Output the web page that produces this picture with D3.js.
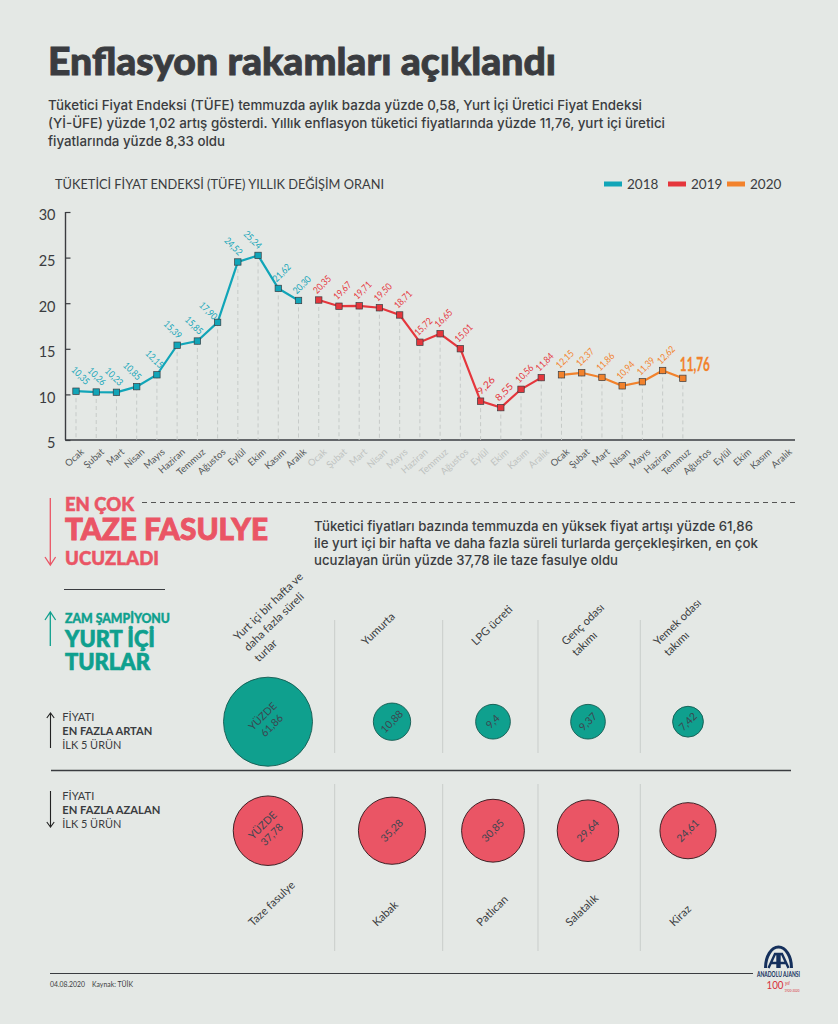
<!DOCTYPE html>
<html>
<head>
<meta charset="utf-8">
<script src="https://cdn.jsdelivr.net/npm/d3@7"></script>
<style>
html, body { margin: 0; padding: 0; background: #e4e8e5; }
svg { display: block; }
text { font-family: Lato, "Noto Sans", sans-serif; }
</style>
</head>
<body>
<svg width="838" height="1024"></svg>
<script>
const months = ['Ocak', 'Şubat', 'Mart', 'Nisan', 'Mayıs', 'Haziran', 'Temmuz', 'Ağustos', 'Eylül', 'Ekim', 'Kasım', 'Aralık'];
const years = ['2018', '2019', '2020'];
const values2018 = [10.35, 10.26, 10.23, 10.85, 12.15, 15.39, 15.85, 17.90, 24.52, 25.24, 21.62, 20.30];
const values2019 = [20.35, 19.67, 19.71, 19.50, 18.71, 15.72, 16.65, 15.01, 9.26, 8.55, 10.56, 11.84];
const values2020 = [12.15, 12.37, 11.86, 10.94, 11.39, 12.62, 11.76];
const yTicks = [5, 10, 15, 20, 25, 30];

const riseNames = [['Yurt içi bir hafta ve', 'daha fazla süreli', 'turlar'], ['Yumurta'], ['LPG ücreti'], ['Genç odası', 'takımı'], ['Yemek odası', 'takımı']];
const riseValues = [61.86, 10.88, 9.4, 9.37, 7.42];
const fallNames = ['Taze fasulye', 'Kabak', 'Patlıcan', 'Salatalık', 'Kiraz'];
const fallValues = [37.78, 35.28, 30.85, 29.64, 24.61];

const colors = {2018: '#11a5b8', 2019: '#e5363c', 2020: '#f2822c'};
const dark = '#3a3c40';
const pink = '#ea5565';
const green = '#0fa08e';

const svg = d3.select('svg');
const comma = d => d.toFixed(2).replace('.', ',');

//HEADER
svg.append('text').attr('x', 48).attr('y', 75)
    .attr('font-size', 38).attr('font-weight', 900).attr('fill', dark)
    .attr('stroke', dark).attr('stroke-width', 0.9)
    .attr('textLength', 508).attr('lengthAdjust', 'spacingAndGlyphs')
    .text('Enflasyon rakamları açıklandı');

const intro = ['Tüketici Fiyat Endeksi (TÜFE) temmuzda aylık bazda yüzde 0,58, Yurt İçi Üretici Fiyat Endeksi',
    '(Yİ-ÜFE) yüzde 1,02 artış gösterdi. Yıllık enflasyon tüketici fiyatlarında yüzde 11,76, yurt içi üretici',
    'fiyatlarında yüzde 8,33 oldu'];
const introWidth = [594, 617, 177];
svg.append('g').selectAll('text').data(intro).join('text')
    .attr('x', 48).attr('y', (d, i) => 110 + i * 18)
    .attr('font-size', 13.5).attr('font-weight', 500).attr('fill', dark)
    .style('font-family', 'Inter')
    .attr('textLength', (d, i) => introWidth[i]).attr('lengthAdjust', 'spacingAndGlyphs')
    .text(d => d);

//LINE CHART
svg.append('text').attr('x', 55).attr('y', 189)
    .attr('font-size', 12.5).attr('fill', dark)
    .attr('textLength', 329).attr('lengthAdjust', 'spacingAndGlyphs')
    .text('TÜKETİCİ FİYAT ENDEKSİ (TÜFE) YILLIK DEĞİŞİM ORANI');

const legendX = d3.scaleOrdinal().domain(years).range([604, 668, 727]);
const legend = svg.append('g').selectAll('g').data(years).join('g')
    .attr('transform', d => `translate(${legendX(d)}, 184)`);
legend.append('rect').attr('y', -2.5).attr('width', 18).attr('height', 5).attr('fill', d => colors[d]);
legend.append('text').attr('x', 23).attr('y', 5).attr('font-size', 13.5).attr('fill', dark).text(d => d);

const monthAxis = years.flatMap(y => months.map(m => `${y}-${m}`));
const x = d3.scalePoint().domain(monthAxis).range([76, 784]);
const y = d3.scaleLinear().domain([5, 30]).range([440, 212]);

const series = [
    {year: '2018', values: values2018},
    {year: '2019', values: values2019},
    {year: '2020', values: values2020}
];

const chart = svg.append('g');

const yAxis = chart.append('g').attr('transform', `translate(65.5, 0)`)
    .call(d3.axisLeft(y).tickValues(yTicks).tickSize(-5).tickPadding(10));
yAxis.select('.domain').attr('stroke', dark).attr('stroke-width', 1.4).attr('d', `M0,${y(30)}V${y(5)}`);
yAxis.selectAll('line').attr('stroke', dark).attr('stroke-width', 1.2);
yAxis.selectAll('text').attr('font-size', 14.5).attr('fill', dark).attr('dy', '0.55em').style('font-family', 'Lato');
chart.append('line').attr('x1', 65).attr('x2', 795).attr('y1', 440).attr('y2', 440)
    .attr('stroke', dark).attr('stroke-width', 1.4);

//x labels, 2019 is faded on the original
chart.append('g').selectAll('text').data(monthAxis).join('text')
    .attr('transform', d => `translate(${x(d) + 7}, 451) rotate(-42)`)
    .attr('text-anchor', 'end').attr('dominant-baseline', 'middle')
    .attr('font-size', 9.5).attr('fill', d => d.startsWith('2019') ? '#bfc3c1' : '#55585a')
    .text(d => d.split('-')[1]);

const line = d3.line().x(d => x(d.key)).y(d => y(d.value));

//label placement: the rising part of 2018 leans the other way
function labelTransform(d, i, year) {
    if (year == '2018' && i < 10) {
        const dx = [4, 0, -3, -5, -3, -5, -4, -10, -5, -6][i];
        const dy = i == 7 ? -11 : -15;
        return `translate(${x(d.key) + dx}, ${y(d.value) + dy}) rotate(45)`;
    }
    const dx = d.key == '2019-Eylül' ? 6 : 4;
    return `translate(${x(d.key) + dx}, ${y(d.value) - 15}) rotate(-45)`;
}

for (const s of series) {
    const pts = s.values.map((v, i) => ({key: `${s.year}-${months[i]}`, value: v}));
    const g = chart.append('g');
    g.selectAll('.drop').data(pts).join('line').attr('class', 'drop')
        .attr('x1', d => x(d.key)).attr('x2', d => x(d.key))
        .attr('y1', d => y(d.value)).attr('y2', 440)
        .attr('stroke', '#c3c7c5').attr('stroke-width', 0.9).attr('stroke-dasharray', '4 3');
    g.append('path').datum(pts).attr('d', line).attr('fill', 'none')
        .attr('stroke', colors[s.year]).attr('stroke-width', 2.2);
    g.selectAll('rect').data(pts).join('rect')
        .attr('x', d => x(d.key) - 3.2).attr('y', d => y(d.value) - 3.2)
        .attr('width', 6.4).attr('height', 6.4)
        .attr('fill', colors[s.year]).attr('stroke', dark).attr('stroke-width', 0.7);

    const isLast = d => d.key == '2020-Temmuz';
    g.selectAll('text').data(pts.filter(d => !isLast(d))).join('text')
        .attr('transform', (d, i) => labelTransform(d, i, s.year))
        .attr('text-anchor', 'middle').attr('dominant-baseline', 'middle')
        .attr('font-size', 9.5).attr('fill', colors[s.year])
        .attr('textLength', 21).attr('lengthAdjust', 'spacingAndGlyphs')
        .text(d => comma(d.value));
    g.selectAll('.last').data(pts.filter(isLast)).join('text').attr('class', 'last')
        .attr('x', d => x(d.key) - 3).attr('y', d => y(d.value) - 7.5)
        .attr('font-size', 19).attr('font-weight', 700).attr('fill', colors[s.year])
        .attr('stroke', colors[s.year]).attr('stroke-width', 0.3)
        .attr('textLength', 30).attr('lengthAdjust', 'spacingAndGlyphs')
        .text(d => comma(d.value));
}

//ARROWS
function arrow(xPos, y1, y2, color, width, headW, headH) {
    const dir = y2 > y1 ? -1 : 1;
    svg.append('path')
        .attr('d', `M${xPos},${y1}V${y2}M${xPos - headW},${y2 + dir * headH}L${xPos},${y2}L${xPos + headW},${y2 + dir * headH}`)
        .attr('fill', 'none').attr('stroke', color).attr('stroke-width', width);
}

function label(txt, xPos, yPos, size, weight, color, len, stroke) {
    const t = svg.append('text').attr('x', xPos).attr('y', yPos)
        .attr('font-size', size).attr('font-weight', weight).attr('fill', color).text(txt);
    if (len) t.attr('textLength', len).attr('lengthAdjust', 'spacingAndGlyphs');
    if (stroke) t.attr('stroke', color).attr('stroke-width', stroke);
}

//MIDDLE PANEL
arrow(50.3, 498, 565, pink, 1.3, 5.3, 8);
label('EN ÇOK', 65, 511, 19, 900, pink, 69, 0.5);
label('TAZE FASULYE', 65, 540, 30, 900, pink, 203, 0.9);
label('UCUZLADI', 65, 565, 19, 900, pink, 94, 0.5);
svg.append('line').attr('x1', 142).attr('x2', 797).attr('y1', 502.5).attr('y2', 502.5)
    .attr('stroke', '#555').attr('stroke-width', 1).attr('stroke-dasharray', '5 4');

const para = ['Tüketici fiyatları bazında temmuzda en yüksek fiyat artışı yüzde 61,86',
    'ile yurt içi bir hafta ve daha fazla süreli turlarda gerçekleşirken, en çok',
    'ucuzlayan ürün yüzde 37,78 ile taze fasulye oldu'];
const paraWidth = [439, 444, 304];
svg.append('g').selectAll('text').data(para).join('text')
    .attr('x', 314).attr('y', (d, i) => 530.7 + i * 17.3)
    .attr('font-size', 13.5).attr('font-weight', 500).attr('fill', dark)
    .style('font-family', 'Inter')
    .attr('textLength', (d, i) => paraWidth[i]).attr('lengthAdjust', 'spacingAndGlyphs')
    .text(d => d);

svg.append('line').attr('x1', 64).attr('x2', 165).attr('y1', 589.5).attr('y2', 589.5)
    .attr('stroke', dark).attr('stroke-width', 1);

arrow(50.3, 646, 612, green, 1.3, 5.3, 8);
label('ZAM ŞAMPİYONU', 65, 623, 13.5, 900, green, 105, 0.4);
label('YURT İÇİ', 65, 647, 23, 900, green, 90, 0.7);
label('TURLAR', 65, 670, 23, 900, green, 85, 0.7);

arrow(50.5, 748, 713, '#222', 1.1, 3.7, 5);
label('FİYATI', 62.3, 721, 11.5, 400, dark, 32);
label('EN FAZLA ARTAN', 62.3, 735, 11.5, 700, dark, 90);
label('İLK 5 ÜRÜN', 62.3, 749, 11.5, 400, dark, 59);

svg.append('line').attr('x1', 51).attr('x2', 791).attr('y1', 770.5).attr('y2', 770.5)
    .attr('stroke', dark).attr('stroke-width', 1.4);

arrow(50.5, 791, 827, '#222', 1.1, 3.7, 5);
label('FİYATI', 62.3, 800, 11.5, 400, dark, 32);
label('EN FAZLA AZALAN', 62.3, 814, 11.5, 700, dark, 98);
label('İLK 5 ÜRÜN', 62.3, 828, 11.5, 400, dark, 59);

//BUBBLES
const columnX = d3.scaleOrdinal().domain([0, 1, 2, 3, 4]).range([268, 392, 493, 588, 688]);
const r = d3.scaleSqrt().domain([0, 61.86]).range([0, 44.5]);
const dividers = [334.7, 442.7, 538, 640.3];

svg.append('g').selectAll('line').data(dividers.flatMap(d => [[d, 620, 753], [d, 784, 951]])).join('line')
    .attr('x1', d => d[0]).attr('x2', d => d[0]).attr('y1', d => d[1]).attr('y2', d => d[2])
    .attr('stroke', '#c9cdcb').attr('stroke-width', 1);

function bubbles(vals, cy, fill, stroke) {
    const g = svg.append('g').selectAll('g').data(vals).join('g')
        .attr('transform', (d, i) => `translate(${columnX(i)}, ${cy})`);
    g.append('circle').attr('r', d => r(d)).attr('fill', fill).attr('stroke', stroke).attr('stroke-width', 0.9);
    g.append('text').attr('transform', 'rotate(-45)').attr('text-anchor', 'middle')
        .attr('font-size', 10.5).attr('fill', '#3c4650')
        .selectAll('tspan').data((d, i) => i == 0 ? ['YÜZDE', comma(d)] : [String(d).replace('.', ',')]).join('tspan')
        .attr('x', 0).attr('y', (t, i, all) => all.length == 2 ? (i == 0 ? -4 : 9) : 3.5)
        .text(t => t);
}
bubbles(riseValues, 721.7, green, '#145a50');
bubbles(fallValues, 830.7, pink, '#2c1418');

//product names start at the lower left and run up, each with its own offset in the column
const riseOffset = [-30, -26, -17, -22, -30];
const fallOffset = [-15, -15, -12, -18, -14];

const riseLabel = svg.append('g').selectAll('g').data(riseNames).join('g')
    .attr('transform', (d, i) => `translate(${columnX(i) + riseOffset[i]}, ${i == 0 ? 641 : 646}) rotate(-44)`);
riseLabel.selectAll('text').data(d => d).join('text')
    .attr('y', (t, i) => i * 15)
    .attr('font-size', 11.2).attr('fill', dark)
    .text(t => t);

svg.append('g').selectAll('text').data(fallNames).join('text')
    .attr('transform', (d, i) => `translate(${columnX(i) + fallOffset[i]}, 927) rotate(-44)`)
    .attr('font-size', 11.2).attr('fill', dark)
    .text(d => d);

//FOOTER
svg.append('line').attr('x1', 50).attr('x2', 753).attr('y1', 973.5).attr('y2', 973.5)
    .attr('stroke', dark).attr('stroke-width', 1.2);
label('04.08.2020', 50, 987, 7.5, 400, dark, 35);
label('Kaynak: TÜİK', 92, 987, 7.5, 400, dark, 41);

//LOGO
const logo = svg.append('g').attr('transform', 'translate(778.5, 0)');
logo.append('path').attr('d', 'M-13,968A13,21 0 0 1 13,968').attr('fill', 'none')
    .attr('stroke', '#15305c').attr('stroke-width', 3);
logo.append('path').attr('d', 'M-10,968L-3.5,954L-1,954L-1,968M-7,963L-1,963M10,968L3.5,954L1,954L1,968M7,963L1,963')
    .attr('fill', 'none').attr('stroke', '#15305c').attr('stroke-width', 2.4);
logo.append('text').attr('y', 976.7).attr('text-anchor', 'middle').attr('font-size', 7).attr('font-weight', 700)
    .attr('fill', '#15305c').attr('textLength', 43).attr('lengthAdjust', 'spacingAndGlyphs').text('ANADOLU AJANSI');
logo.append('text').attr('x', -12).attr('y', 989).attr('font-size', 10.5).attr('fill', '#d8313c')
    .attr('textLength', 17).attr('lengthAdjust', 'spacingAndGlyphs').text('100');
logo.append('text').attr('x', 6.5).attr('y', 985).attr('font-size', 5).attr('font-style', 'italic').attr('fill', '#d8313c')
    .text('yıl');
logo.append('text').attr('x', 6).attr('y', 992).attr('font-size', 3).attr('fill', '#d8313c')
    .text('1920-2020');
</script>
</body>
</html>
